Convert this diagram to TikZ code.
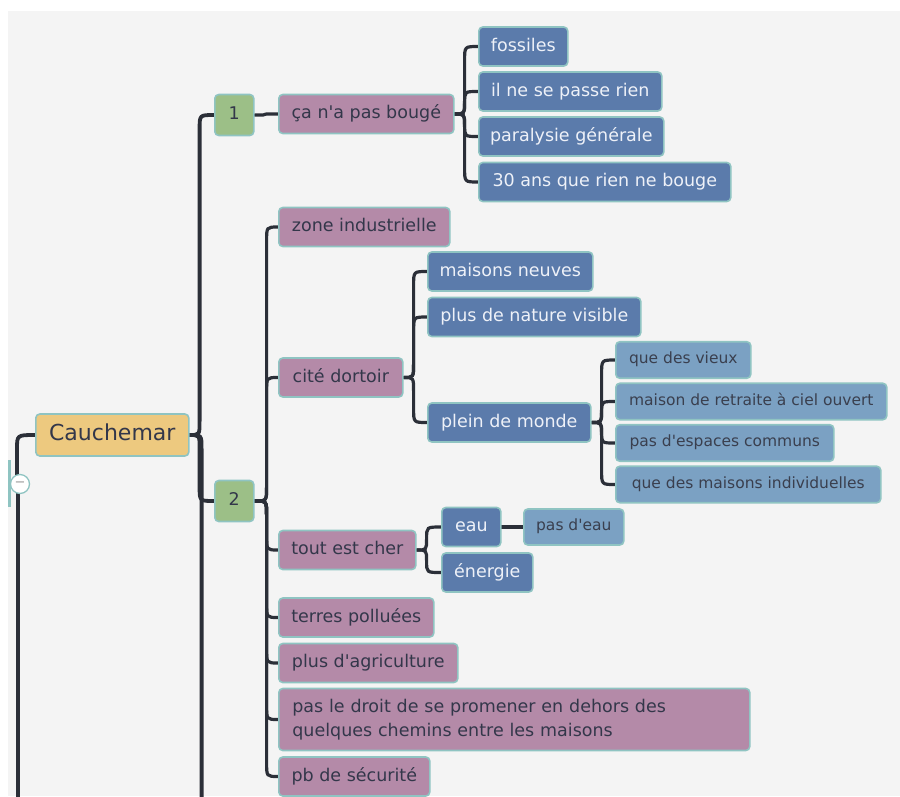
\documentclass[tikz,border=0pt]{standalone}
\usepackage{fontspec}
\setmainfont{DejaVu Sans}
\usetikzlibrary{calc}
\definecolor{bgc}{HTML}{F4F4F4}
\definecolor{bordc}{HTML}{8FC4C2}
\definecolor{yelc}{HTML}{EDC97F}
\definecolor{grnc}{HTML}{9CBF87}
\definecolor{mauvec}{HTML}{B48AA8}
\definecolor{dbluec}{HTML}{5B7BAB}
\definecolor{lbluec}{HTML}{7BA1C3}
\definecolor{linec}{HTML}{2B2F38}
\definecolor{darktext}{HTML}{33374A}
\definecolor{lighttext}{HTML}{EEF1F8}
\definecolor{lbtext}{HTML}{3A3F4E}
\pgfdeclarelayer{back}
\pgfdeclarelayer{lines}
\pgfsetlayers{back,lines,main}
\newcommand\ap{\textquotesingle}
% \conn[d]{style}{from}{to}
\newcommand\conn[4][10]{%
  \draw[conn,#2] let \p1=#3, \p2=#4,
    \n1={sign(\y2-\y1)*min(14,abs(\y2-\y1)/2)} in
    (\p1) .. controls ({\x1+#1pt},\y1) .. ({\x1+#1pt},{\y1+(\n1)*1pt})
    -- ({\x1+#1pt},{\y2-(\n1)*1pt}) .. controls ({\x1+#1pt},\y2) .. (\p2);}
\tikzset{
  box/.style={draw=bordc, line width=1.6pt, rounded corners=4pt, anchor=west,
    inner sep=0pt, minimum height=39, font=\fontsize{17.5}{21}\selectfont,
    text height=12.8pt, text depth=3.8pt, text=darktext},
  mv/.style={box, fill=mauvec},
  db/.style={box, fill=dbluec, text=lighttext},
  lb/.style={box, fill=lbluec, text=lbtext, minimum height=36.5,
    font=\fontsize{15.5}{19}\selectfont, text height=11.3pt, text depth=3.4pt},
  gr/.style={box, fill=grnc, minimum height=41},
  central/.style={box, fill=yelc, minimum height=42, font=\fontsize{22}{26}\selectfont,
    text height=16pt, text depth=4.6pt},
  conn/.style={draw=linec, line width=3.2pt, line cap=round},
  trunk/.style={line width=3.8pt},
}
\begin{document}
\begin{tikzpicture}[x=1pt,y=-1pt]
\useasboundingbox (0,0) rectangle (900,796);
\begin{pgfonlayer}{back}
  \fill[white] (0,0) rectangle (900,796);
  \fill[bgc] (8,11) rectangle (900,796);
\end{pgfonlayer}

\coordinate (root) at (10,483);
\coordinate (rootnext) at (35,1400);
\coordinate (caunext) at (214,1400);

\node[central, minimum width=153] (cau) at (35,435) {Cauchemar};
\node[gr, minimum width=39] (n1) at (214,115) {1};
\node[gr, minimum width=39] (n2) at (214,501) {2};
\node[mv, minimum width=175] (ca) at (278,114) {ça n\ap a pas bougé};
\node[db, minimum width=89] (fo) at (478,46.5) {fossiles};
\node[db, minimum width=183] (il) at (478,91.5) {il ne se passe rien};
\node[db, minimum width=185] (pa) at (478,136.5) {paralysie générale};
\node[db, minimum width=252] (tr) at (478,182) {30 ans que rien ne bouge};
\node[mv, minimum width=171] (zi) at (278,227) {zone industrielle};
\node[db, minimum width=165] (mn) at (427,271.5) {maisons neuves};
\node[db, minimum width=213] (pn) at (427,317) {plus de nature visible};
\node[mv, minimum width=124] (cd) at (278,377.5) {cité dortoir};
\node[db, minimum width=163] (pm) at (427,422.5) {plein de monde};
\node[lb, minimum width=135] (qv) at (615,360) {que des vieux};
\node[lb, minimum width=271] (mr) at (615,401.5) {maison de retraite à ciel ouvert};
\node[lb, minimum width=218] (ec) at (615,443) {pas d\ap espaces communs};
\node[lb, minimum width=265] (mi) at (615,484.5) {que des maisons individuelles};
\node[mv, minimum width=137] (tc) at (278,550) {tout est cher};
\node[db, minimum width=59] (ea) at (441,527) {eau};
\node[lb, minimum width=100, minimum height=36] (pe) at (523,527) {pas d\ap eau};
\node[db, minimum width=91] (en) at (441,572.5) {énergie};
\node[mv, minimum width=155] (tp) at (278,617.5) {terres polluées};
\node[mv, minimum width=179] (ag) at (278,663) {plus d\ap agriculture};
\node[mv, text height={}, text depth={}, minimum height=62, inner xsep=13.5pt,
  text width=444pt, align=left, font=\fontsize{17.5}{24}\selectfont]
  (dr) at (278,719.5) {pas le droit de se promener en dehors des\\quelques chemins entre les maisons};
\node[mv, minimum width=151] (ps) at (278,776.5) {pb de sécurité};

\fill[bordc] (8,460) rectangle (10.5,507);

\begin{pgfonlayer}{lines}
  \conn[7]{trunk}{(root)}{(cau.west)}
  \conn[8]{trunk}{(root)}{(rootnext)}
  \conn{trunk}{(cau.east)}{(n1.west)}
  \conn{trunk}{(cau.east)}{(n2.west)}
  \conn[12]{trunk}{(cau.east)}{(caunext)}
  \conn{}{(n1.east)}{(ca.west)}
  \conn{}{(ca.east)}{(fo.west)}
  \conn{}{(ca.east)}{(il.west)}
  \conn{}{(ca.east)}{(pa.west)}
  \conn{}{(ca.east)}{(tr.west)}
  \conn[12]{}{(n2.east)}{(zi.west)}
  \conn[12]{}{(n2.east)}{(cd.west)}
  \conn[12]{}{(n2.east)}{(tc.west)}
  \conn[12]{}{(n2.east)}{(tp.west)}
  \conn[12]{}{(n2.east)}{(ag.west)}
  \conn[12]{}{(n2.east)}{(dr.west)}
  \conn[12]{}{(n2.east)}{(ps.west)}
  \conn{}{(cd.east)}{(mn.west)}
  \conn{}{(cd.east)}{(pn.west)}
  \conn{}{(cd.east)}{(pm.west)}
  \conn{}{(pm.east)}{(qv.west)}
  \conn{}{(pm.east)}{(mr.west)}
  \conn{}{(pm.east)}{(ec.west)}
  \conn{}{(pm.east)}{(mi.west)}
  \conn{}{(tc.east)}{(ea.west)}
  \conn{}{(tc.east)}{(en.west)}
  \conn{}{(ea.east)}{(pe.west)}
\end{pgfonlayer}

\node[circle, draw=bordc, fill=white, line width=1.3pt, minimum size=19, inner sep=0pt,
  text=gray!80, font=\fontsize{13}{13}\selectfont] (col) at (20,484) {−};
\end{tikzpicture}
\end{document}
